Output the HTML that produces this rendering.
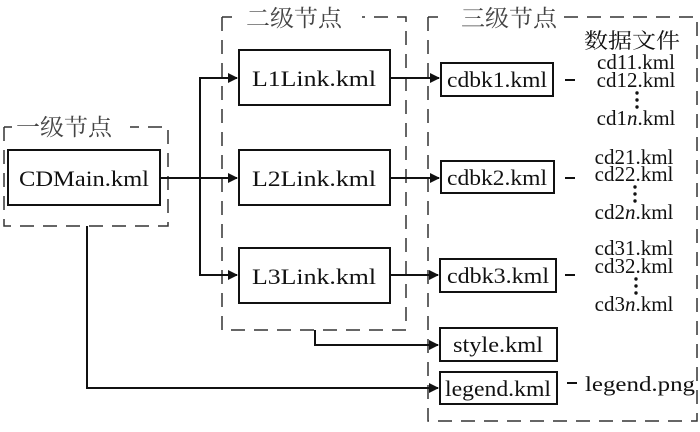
<!DOCTYPE html>
<html><head><meta charset="utf-8"><style>body{margin:0;background:#fff}svg{display:block}text{font-family:"Liberation Serif","Noto Serif CJK SC",serif}</style></head><body>
<svg width="700" height="432" viewBox="0 0 700 432" xmlns="http://www.w3.org/2000/svg" fill="#111">
<defs><marker id="a" markerWidth="10" markerHeight="10" refX="9" refY="5" orient="auto" markerUnits="userSpaceOnUse"><path d="M0,0L10,5L0,10z" fill="#111"/></marker></defs>
<g fill="none" stroke="#333" stroke-width="1.5" stroke-dasharray="14,9">
<path d="M4,127V226H168V127H130"/>
<path d="M4,127H12"/>
<path d="M222,17V330H406V17H362"/>
<path d="M222,17H232"/>
<path d="M428,17V421H697V17H564"/>
<path d="M428,17H438"/>
</g>
<g fill="none" stroke="#111" stroke-width="2">
<rect x="8" y="150" width="152" height="55"/>
<rect x="239" y="50" width="151" height="55"/>
<rect x="239" y="150" width="151" height="55"/>
<rect x="239" y="248" width="151" height="55"/>
<rect x="441" y="63" width="112" height="33"/>
<rect x="441" y="161" width="113" height="32"/>
<rect x="440" y="259" width="116" height="33"/>
<rect x="440" y="328" width="117" height="33"/>
<rect x="440" y="372" width="117" height="32"/>
<path d="M160,178H237" marker-end="url(#a)"/>
<path d="M200,275V78H237" marker-end="url(#a)"/>
<path d="M200,178V275H237" marker-end="url(#a)"/>
<path d="M390,78H439" marker-end="url(#a)"/>
<path d="M390,178H439" marker-end="url(#a)"/>
<path d="M390,275H438" marker-end="url(#a)"/>
<path d="M315,330V345H438" marker-end="url(#a)"/>
<path d="M87,226V388H438" marker-end="url(#a)"/>
<path d="M565,80H575M565,178H575M565,275H575M567,383H577"/>
</g>
<g font-size="22" text-anchor="middle">
<text x="84" y="186" textLength="130" lengthAdjust="spacingAndGlyphs">CDMain.kml</text>
<text x="314" y="86" textLength="124" lengthAdjust="spacingAndGlyphs">L1Link.kml</text>
<text x="314" y="186" textLength="124" lengthAdjust="spacingAndGlyphs">L2Link.kml</text>
<text x="314" y="284" textLength="124" lengthAdjust="spacingAndGlyphs">L3Link.kml</text>
<text x="497" y="87" textLength="100" lengthAdjust="spacingAndGlyphs">cdbk1.kml</text>
<text x="497" y="185" textLength="100" lengthAdjust="spacingAndGlyphs">cdbk2.kml</text>
<text x="498" y="283" textLength="102" lengthAdjust="spacingAndGlyphs">cdbk3.kml</text>
<text x="498" y="352" textLength="90" lengthAdjust="spacingAndGlyphs">style.kml</text>
<text x="498" y="396" textLength="106" lengthAdjust="spacingAndGlyphs">legend.kml</text>
</g>
<g font-size="23" fill="#444">
<text x="16" y="135" textLength="96" lengthAdjust="spacingAndGlyphs">一级节点</text>
<text x="246" y="26" textLength="96" lengthAdjust="spacingAndGlyphs">二级节点</text>
<text x="461" y="26" textLength="96" lengthAdjust="spacingAndGlyphs">三级节点</text>
</g>
<g font-size="21" text-anchor="middle">
<text x="632" y="48" textLength="96" lengthAdjust="spacingAndGlyphs">数据文件</text>
<text x="636" y="69">cd11.kml</text><text x="636" y="87">cd12.kml</text><text x="636" y="125">cd1<tspan font-style="italic">n</tspan>.kml</text>
<text x="634" y="164">cd21.kml</text><text x="634" y="181">cd22.kml</text><text x="634" y="219">cd2<tspan font-style="italic">n</tspan>.kml</text>
<text x="634" y="255">cd31.kml</text><text x="634" y="273">cd32.kml</text><text x="634" y="311">cd3<tspan font-style="italic">n</tspan>.kml</text>
<text x="640" y="391" textLength="110" lengthAdjust="spacingAndGlyphs">legend.png</text>
</g>
<g fill="#111">
<circle cx="637" cy="93" r="1.7"/><circle cx="637" cy="100" r="1.7"/><circle cx="637" cy="107" r="1.7"/>
<circle cx="635" cy="187" r="1.7"/><circle cx="635" cy="194" r="1.7"/><circle cx="635" cy="201" r="1.7"/>
<circle cx="636" cy="279" r="1.7"/><circle cx="636" cy="286" r="1.7"/><circle cx="636" cy="293" r="1.7"/>
</g>
</svg>
</body></html>
